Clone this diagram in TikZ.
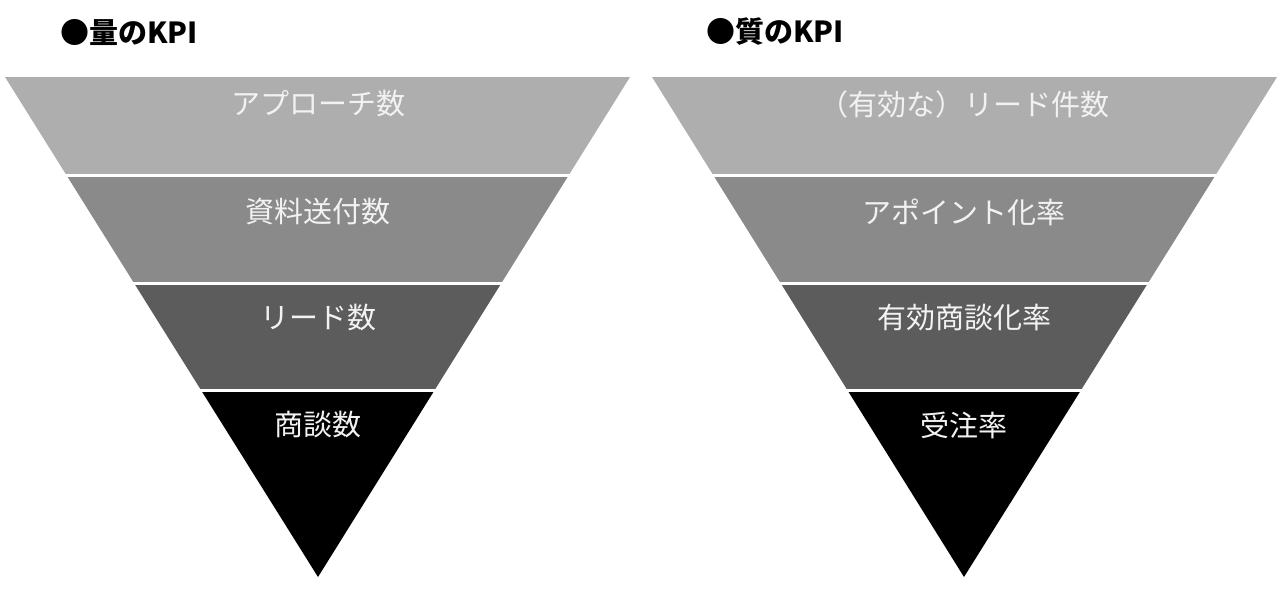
\documentclass[tikz,border=0pt]{standalone}
\usepackage{fontspec}
\newfontfamily\jp{Noto Sans CJK JP}
\begin{document}
\begin{tikzpicture}[x=1pt,y=-1pt,
  bandtext/.style={text=white!95!black,font=\jp\fontsize{29}{34}\selectfont,inner sep=0pt,anchor=center},
  titletext/.style={text=black,font=\jp\bfseries\fontsize{29}{34}\selectfont,inner sep=0pt,anchor=west}]
\definecolor{bandA}{HTML}{AEAEAE}
\definecolor{bandB}{HTML}{8A8A8A}
\definecolor{bandC}{HTML}{5C5C5C}
\definecolor{bandD}{HTML}{000000}
\useasboundingbox[fill=white] (0,0) rectangle (1281,596);
% titles
\node[titletext] (t1) at (60,32) {●量のKPI};
\node[titletext] (t2) at (706,32) {●質のKPI};
% left funnel
\begin{scope}
  \clip (5,77) -- (630,77) -- (318,577) -- cycle;
  \fill[bandA] (0,77) rectangle (640,174);
  \fill[bandB] (0,177) rectangle (640,282);
  \fill[bandC] (0,285) rectangle (640,389);
  \fill[bandD] (0,392) rectangle (640,580);
\end{scope}
% right funnel
\begin{scope}
  \clip (652,77) -- (1277,77) -- (964,577) -- cycle;
  \fill[bandA] (645,77) rectangle (1281,174);
  \fill[bandB] (645,177) rectangle (1281,282);
  \fill[bandC] (645,285) rectangle (1281,389);
  \fill[bandD] (645,392) rectangle (1281,580);
\end{scope}
% labels
\node[bandtext] (l1) at (318,104) {アプローチ数};
\node[bandtext] (l2) at (318,212) {資料送付数};
\node[bandtext] (l3) at (318,318) {リード数};
\node[bandtext] (l4) at (318,425) {商談数};
\node[bandtext] (r1) at (964,104) {（有効な）リード件数};
\node[bandtext] (r2) at (964,212) {アポイント化率};
\node[bandtext] (r3) at (964,318) {有効商談化率};
\node[bandtext] (r4) at (964,425) {受注率};
\end{tikzpicture}
\end{document}
